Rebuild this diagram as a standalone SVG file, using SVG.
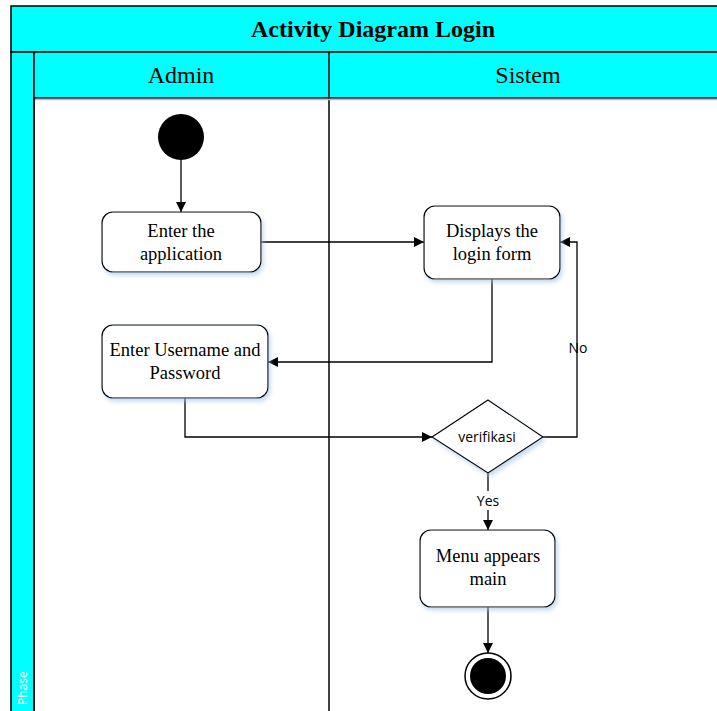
<svg xmlns="http://www.w3.org/2000/svg" width="717" height="711" viewBox="0 0 717 711">
  <defs>
    <marker id="arrow" viewBox="0 0 10 10" refX="10" refY="5" markerWidth="10" markerHeight="10" markerUnits="userSpaceOnUse" orient="auto">
      <path d="M0,0 L10,5 L0,10 z" fill="#000"/>
    </marker>
    <filter id="shadow" x="-10%" y="-10%" width="130%" height="130%">
      <feDropShadow dx="2" dy="3" stdDeviation="2" flood-color="#9ec3e6" flood-opacity="0.6"/>
    </filter>
  </defs>
  <style>
    .band { fill: #00ffff; stroke: #000; stroke-width: 1.5; }
    .act { fill: #fff; stroke: #000; stroke-width: 1.2; filter: url(#shadow); }
    .lbl { font-family: "Liberation Serif", "Times New Roman", serif; font-size: 18.5px; fill: #000; text-anchor: middle; }
    .head { font-family: "Liberation Serif", "Times New Roman", serif; font-size: 24px; fill: #000; text-anchor: middle; }
    .small { font-family: "Open Sans", "Noto Sans", sans-serif; font-size: 14px; fill: #000; text-anchor: middle; }
    .edge { fill: none; stroke: #000; stroke-width: 1.3; }
  </style>

  <rect width="717" height="711" fill="#fff"/>

  <!-- pool frame and swimlanes -->
  <g id="pool">
    <rect class="band" x="11" y="6" width="712" height="46"/>
    <text class="head" x="373" y="37" font-weight="bold">Activity Diagram Login</text>
    <rect class="band" x="11" y="52" width="23" height="665"/>
    <text x="27" y="705" transform="rotate(-90 27 705)" font-family="Open Sans, Noto Sans, sans-serif" font-size="12" fill="#fff">Phase</text>
    <rect class="band" x="34" y="52" width="689" height="46"/>
    <line x1="329" y1="52" x2="329" y2="711" stroke="#000" stroke-width="1.5"/>
    <line x1="34" y1="98" x2="34" y2="711" stroke="#000" stroke-width="1.5"/>
    <line x1="35" y1="99.5" x2="717" y2="99.5" stroke="#9ec3e6" stroke-width="1.5"/>
    <text class="head" x="181" y="83">Admin</text>
    <text class="head" x="528" y="83">Sistem</text>
  </g>

  <!-- connectors -->
  <g id="connectors">
    <path class="edge" d="M181,160 L181,212" marker-end="url(#arrow)"/>
    <path class="edge" d="M261,242 L424,242" marker-end="url(#arrow)"/>
    <path class="edge" d="M492,279 L492,362 L268,362" marker-end="url(#arrow)"/>
    <path class="edge" d="M185,398 L185,437 L432,437" marker-end="url(#arrow)"/>
    <path class="edge" d="M543,437 L577,437 L577,242 L560,242" marker-end="url(#arrow)"/>
    <path class="edge" d="M488,473 L488,491"/>
    <path class="edge" d="M488,510 L488,530" marker-end="url(#arrow)"/>
    <path class="edge" d="M488,607 L488,653" marker-end="url(#arrow)"/>
    <text class="small" x="578" y="353">No</text>
    <text class="small" x="488" y="506">Yes</text>
  </g>

  <g id="start">
    <circle cx="181" cy="137" r="23" fill="#000"/>
  </g>

  <g id="enter-app">
    <rect class="act" x="102" y="212" width="159" height="60" rx="11"/>
    <text class="lbl" x="181" y="237">Enter the</text>
    <text class="lbl" x="181" y="260">application</text>
  </g>

  <g id="login-form">
    <rect class="act" x="424" y="206" width="136" height="73" rx="11"/>
    <text class="lbl" x="492" y="237">Displays the</text>
    <text class="lbl" x="492" y="260">login form</text>
  </g>

  <g id="enter-credentials">
    <rect class="act" x="102" y="325" width="166" height="73" rx="11"/>
    <text class="lbl" x="185" y="356">Enter Username and</text>
    <text class="lbl" x="185" y="379">Password</text>
  </g>

  <g id="verifikasi">
    <path class="act" d="M488,400 L543,437 L488,473 L432,437 z"/>
    <text class="small" x="487" y="442">verifikasi</text>
  </g>

  <g id="main-menu">
    <rect class="act" x="420" y="530" width="135" height="77" rx="11"/>
    <text class="lbl" x="488" y="562">Menu appears</text>
    <text class="lbl" x="488" y="585">main</text>
  </g>

  <g id="end">
    <circle cx="488" cy="676" r="23" fill="#fff" stroke="#000" stroke-width="1.5"/>
    <circle cx="488" cy="676" r="18" fill="#000"/>
  </g>
</svg>
